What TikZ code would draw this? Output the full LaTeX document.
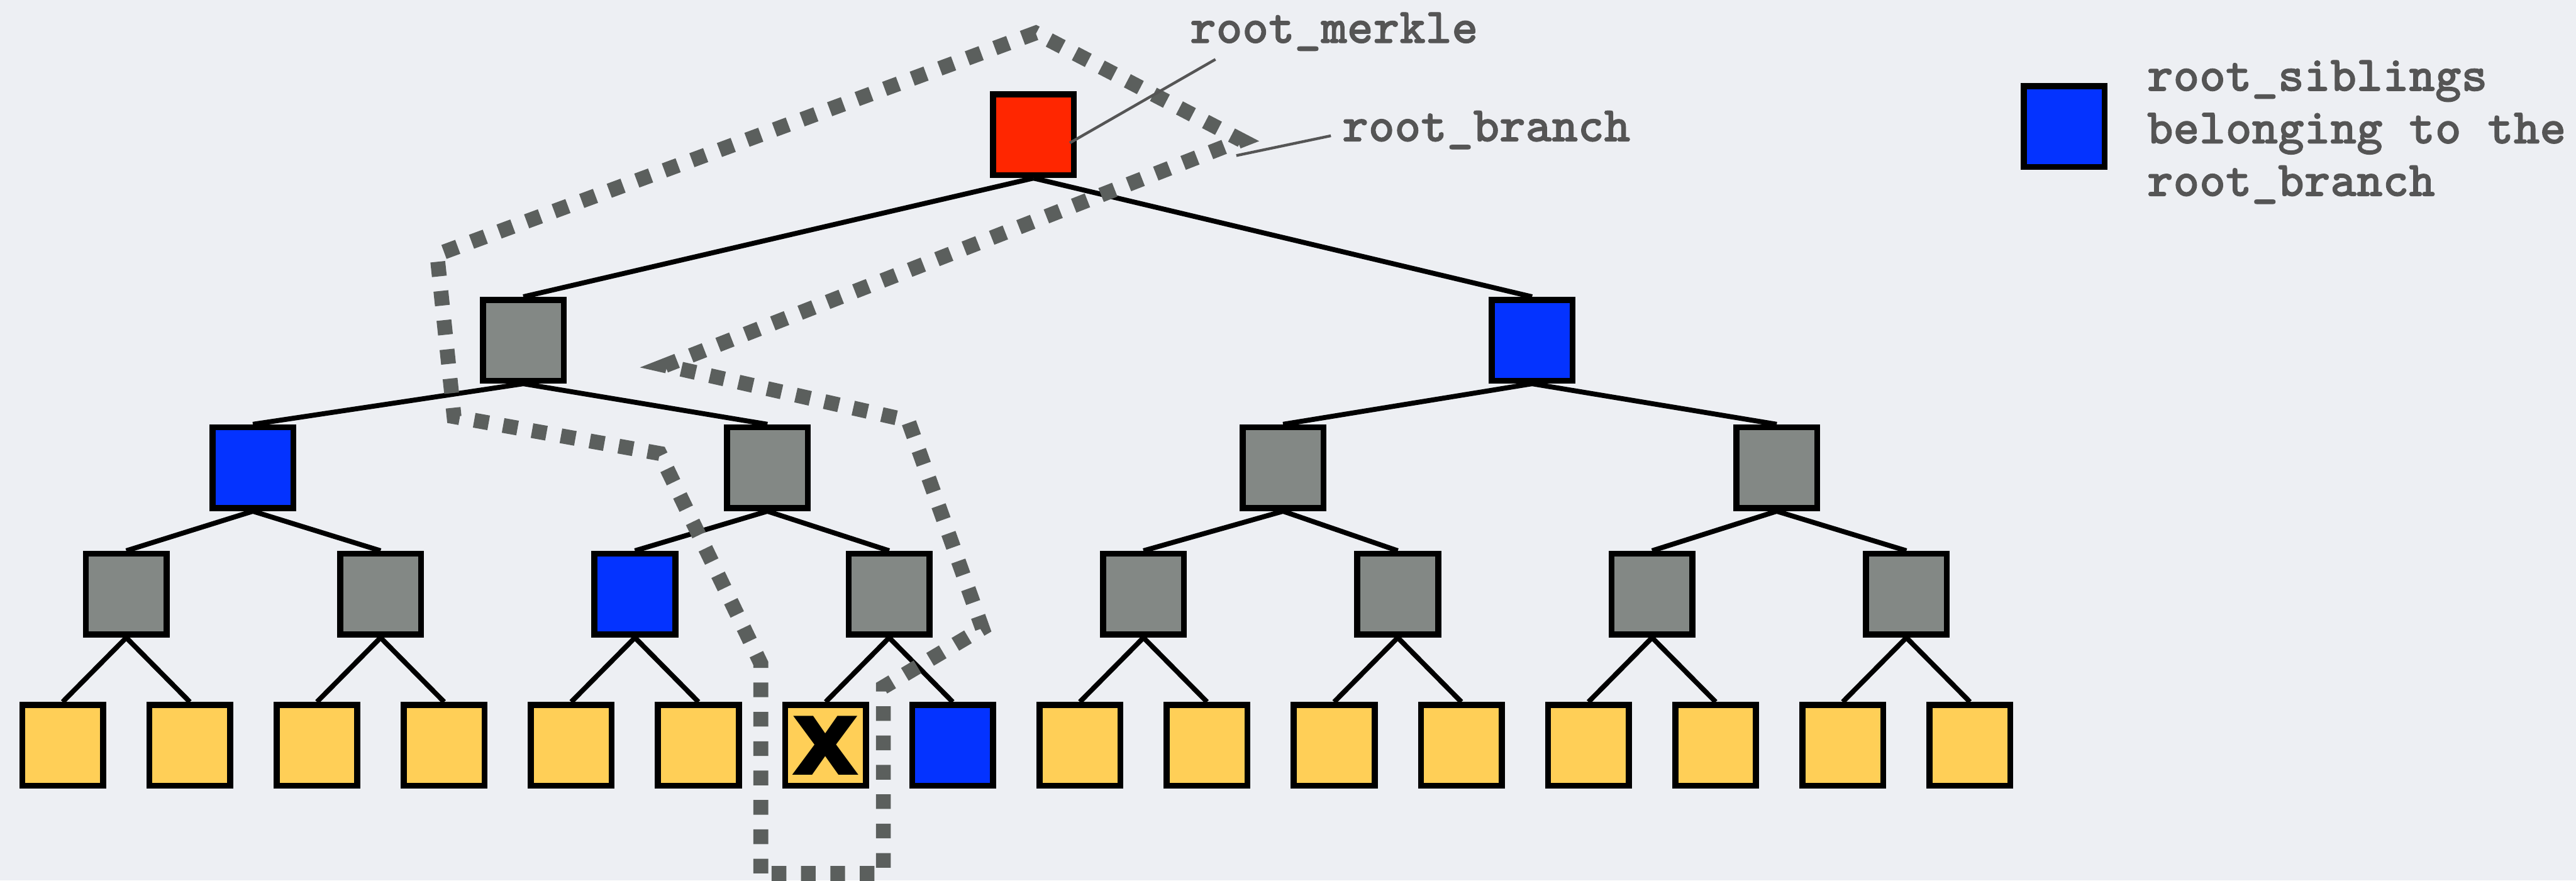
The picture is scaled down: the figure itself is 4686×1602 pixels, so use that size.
\documentclass[tikz,border=0pt]{standalone}
\usepackage{fontspec}
\usepackage{tikz}
\usetikzlibrary{calc}
\newfontfamily\markfont{DejaVu Sans}
\newfontfamily\notefont{lmmonolt10-bold.otf}[FakeBold=1.2]
\definecolor{paper}{HTML}{EDEFF3}
\definecolor{hashred}{HTML}{FF2600}
\definecolor{hashblue}{HTML}{0433FF}
\definecolor{hashgray}{HTML}{838885}
\definecolor{hashleaf}{HTML}{FFCF57}
\definecolor{pathgray}{HTML}{5B5F5D}
\definecolor{notegray}{HTML}{555555}

\begin{document}
\begin{tikzpicture}[x=0.01cm, y=-0.01cm,
  hash/.style={draw=black, line width=0.11cm, minimum size=1.47cm,
    inner sep=0pt, fill=hashgray},
  treeline/.style={line width=0.09cm},
  branchpath/.style={draw=pathgray, line width=0.27cm,
    dash pattern=on 0.267cm off 0.267cm},
  leader/.style={draw=notegray, line width=0.05cm},
  note/.style={text=notegray, inner sep=0pt,
    font=\notefont\fontsize{25.8}{27.2}\selectfont}]

  \useasboundingbox (0,0) rectangle (4686,1602);
  \fill[paper] (0,0) rectangle (4686,1602);

  % merkle tree, top down
  \node[hash, fill=hashred] (root) at (1880,245) {};
  \node[hash] (a0) at (952,619) {};
  \node[hash, fill=hashblue] (a1) at (2787,619) {};
  \node[hash, fill=hashblue] (b0) at (460,851) {};
  \node[hash] (b1) at (1396,851) {};
  \node[hash] (b2) at (2334,851) {};
  \node[hash] (b3) at (3232,851) {};
  \foreach \k in {0,1,3,4,...,7}
    \node[hash] (c\k) at ({229.7+462.6*\k},1081) {};
  \node[hash, fill=hashblue] (c2) at (1155,1081) {};
  \foreach \i in {0,...,5,8,9,...,15}
    \node[hash, fill=hashleaf] (d\i) at ({114+231.3*\i},1356) {};
  \node[hash, fill=hashleaf,
        font=\markfont\bfseries\fontsize{55.7}{60}\selectfont] (d6) at (1502,1356) {x};
  \node[hash, fill=hashblue] (d7) at (1733,1356) {};

  % edges
  \foreach \p/\c in {root/a0,root/a1,a0/b0,a0/b1,a1/b2,a1/b3}
    \draw[treeline] (\p.south) -- (\c.north);
  \foreach \k in {0,...,7} {
    \pgfmathtruncatemacro\up{floor(\k/2)}
    \draw[treeline] (b\up.south) -- (c\k.north);
  }
  \foreach \i in {0,...,15} {
    \pgfmathtruncatemacro\up{floor(\i/2)}
    \draw[treeline] (c\up.south) -- (d\i.north);
  }

  % outline of the branch up to the root
  \draw[branchpath] (1384,1589) -- (1384,1207) -- (1200,825) -- (826,758)
    -- (795,463) -- (1884,60) -- (2258,255) -- (1210,665) -- (1652,765)
    -- (1787,1143) -- (1607,1250) -- (1607,1589) -- cycle;
  \coordinate (branchtip) at (2249,283);

  % labels
  \node[note, anchor=base west] (merkletag) at (2164,78) {root\_merkle};
  \draw[leader] ($(merkletag.base west)+(47,30)$) -- ($(root.center)+(66,15)$);
  \node[note, anchor=base west] (branchtag) at (2441,257) {root\_branch};
  \draw[leader] ($(branchtag.base west)+(-20,-10)$) -- (branchtip);

  % legend
  \node[hash, fill=hashblue] (key) at (3755,230) {};
  \node[note, anchor=north west, align=left] (keytext) at (3905,109)
    {root\_siblings\\belonging to the\\root\_branch};
\end{tikzpicture}
\end{document}
